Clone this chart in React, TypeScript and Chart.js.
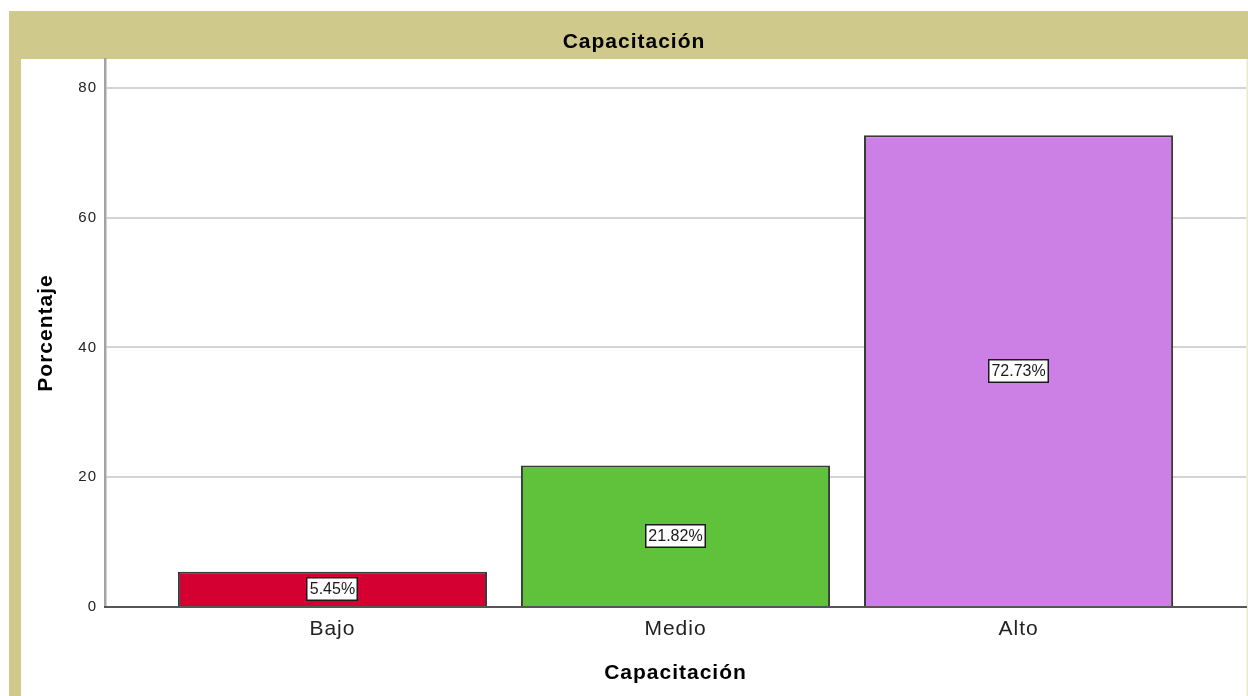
import React, { useEffect, useRef } from "react";
import { Chart, registerables } from "chart.js";

Chart.register(...registerables);

const categories = ["Bajo", "Medio", "Alto"];
const percentages = [5.45, 21.82, 72.73];
const barColors = ["#d50032", "#5fc23a", "#cc80e6"];
const yTickValues = [0, 20, 40, 60, 80];
const chartTitle = "Capacitación";
const xTitle = "Capacitación";
const yTitle = "Porcentaje";

const FONT = "'Liberation Sans', Arial, sans-serif";
const KHAKI = "#cfc98c";

const framePlugin = {
  id: "frame",
  afterLayout(chart: any) {
    if (chart.titleBlock) {
      chart.titleBlock.left = 20;
      chart.titleBlock.right = chart.width;
    }
  },
  beforeDraw(chart: any) {
    const { ctx, width, height } = chart;
    ctx.save();
    ctx.fillStyle = "#ffffff";
    ctx.fillRect(0, 0, width, height);
    ctx.fillStyle = KHAKI;
    ctx.fillRect(9, 11, width - 9, 48);
    ctx.fillRect(9, 59, 12, height - 59);
    ctx.fillStyle = "#ebe8d2";
    ctx.fillRect(width - 1.5, 59, 1.5, height - 59);
    ctx.restore();
    (ctx as any).letterSpacing = "1px";
  },
  afterDraw(chart: any) {
    (chart.ctx as any).letterSpacing = "0px";
  },
};

const labelPlugin = {
  id: "barLabels",
  afterDatasetsDraw(chart: any) {
    const { ctx } = chart;
    const meta = chart.getDatasetMeta(0);
    ctx.save();
    (ctx as any).letterSpacing = "0px";
    ctx.font = `16px ${FONT}`;
    ctx.textAlign = "center";
    ctx.textBaseline = "middle";
    meta.data.forEach((bar: any, i: number) => {
      const text = percentages[i].toFixed(2) + "%";
      const cx = bar.x;
      const cy = (bar.y + bar.base) / 2;
      const w = Math.round(ctx.measureText(text).width + 7);
      const h = 24;
      const bx = Math.round(cx - w / 2);
      const by = Math.round(cy - h / 2);
      ctx.fillStyle = "#ffffff";
      ctx.fillRect(bx, by, w, h);
      ctx.strokeStyle = "#1a1a1a";
      ctx.lineWidth = 1.5;
      ctx.strokeRect(bx + 0.75, by + 0.75, w - 1.5, h - 1.5);
      ctx.fillStyle = "#1a1a1a";
      ctx.fillText(text, cx, cy + 1);
    });
    ctx.restore();
  },
};

export default function App() {
  const canvasRef = useRef<HTMLCanvasElement | null>(null);

  useEffect(() => {
    if (!canvasRef.current) return;
    const chart = new Chart(canvasRef.current, {
      type: "bar",
      data: {
        datasets: [
          {
            data: percentages.map((v, i) => ({ x: i + 1, y: v })),
            backgroundColor: barColors,
            borderColor: "#3a3a3a",
            borderWidth: 2,
            barPercentage: 1,
            categoryPercentage: 0.901,
          },
        ],
      },
      options: {
        responsive: false,
        animation: false,
        devicePixelRatio: 1,
        layout: { padding: { left: 0, right: 2, top: 0, bottom: 0 } },
        plugins: {
          legend: { display: false },
          tooltip: { enabled: false },
          title: {
            display: true,
            text: chartTitle,
            color: "#000000",
            font: { family: FONT, size: 21, weight: "bold" },
            padding: { top: 29.4, bottom: 4.4 },
          },
        },
        scales: {
          x: {
            type: "linear",
            offset: false,
            min: 0.337,
            max: 3.663,
            afterBuildTicks: (s: any) => {
              s.ticks = categories.map((_, i) => ({ value: i + 1 }));
            },
            afterFit: (s: any) => {
              s.height = 89;
            },
            grid: { display: false, drawTicks: false, offset: false },
            border: { display: true, color: "#555555", width: 2, z: 1 },
            ticks: {
              autoSkip: false,
              maxRotation: 0,
              padding: 10,
              color: "#222222",
              font: { family: FONT, size: 21 },
              callback: (_v: any, index: number) => categories[index],
            },
            title: {
              display: true,
              text: xTitle,
              color: "#000000",
              font: { family: FONT, size: 21, weight: "bold" },
              padding: { top: 0, bottom: 9.7 },
            },
          },
          y: {
            type: "linear",
            min: 0,
            max: 84.47,
            afterBuildTicks: (s: any) => {
              s.ticks = yTickValues.map((v) => ({ value: v }));
            },
            afterFit: (s: any) => {
              s.width = 105;
            },
            grid: { color: "#d4d4d4", lineWidth: 2, drawTicks: false },
            border: { display: true, color: "#a3a3a3", width: 2.5 },
            ticks: {
              padding: 8,
              color: "#222222",
              font: { family: FONT, size: 15 },
            },
            title: {
              display: true,
              text: yTitle,
              color: "#000000",
              font: { family: FONT, size: 21, weight: "bold" },
              padding: { top: 33.4, bottom: 0 },
            },
          },
        },
      },
      plugins: [framePlugin, labelPlugin],
    } as any);
    return () => chart.destroy();
  }, []);

  return (
    <div style={{ position: "absolute", left: 0, top: 0, width: 1248, height: 696 }}>
      <canvas ref={canvasRef} width={1248} height={696} style={{ display: "block" }} />
    </div>
  );
}
